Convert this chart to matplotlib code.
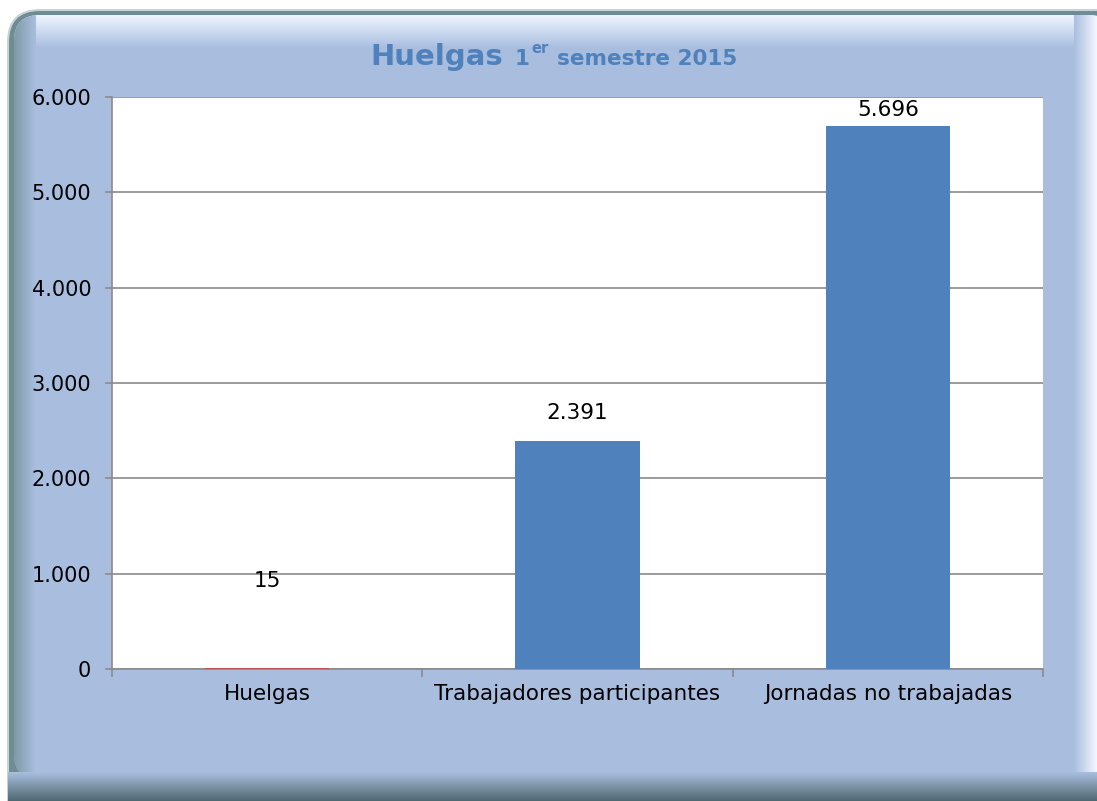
import matplotlib
matplotlib.use("Agg")
import matplotlib.pyplot as plt
import numpy as np
from matplotlib.patches import FancyBboxPatch
from matplotlib.ticker import FuncFormatter, FixedLocator

categories = ["Huelgas", "Trabajadores participantes", "Jornadas no trabajadas"]
values = [15, 2391, 5696]
yticks = [0, 1000, 2000, 3000, 4000, 5000, 6000]

bar_colors = ["#C0504D", "#4F81BD", "#4F81BD"]
label_offsets_px = [87, 28, 16]

W, H = 1097, 801
fig = plt.figure(figsize=(W / 100, H / 100), dpi=100)
fig.patch.set_facecolor("white")

# background frame
bg = fig.add_axes([0, 0, 1, 1])
bg.set_xlim(0, W)
bg.set_ylim(H, 0)
bg.axis("off")
outer = FancyBboxPatch((8, 10), 1150, 850, boxstyle="round,pad=0,rounding_size=32",
                       fc="#6f8b93", ec="#c9d3d6", lw=1.5)
bg.add_patch(outer)
inner = FancyBboxPatch((14, 15), 1100, 765, boxstyle="round,pad=0,rounding_size=26",
                       fc="#A9BEDF", ec="none")
bg.add_patch(inner)

def vgrad(c1, c2, n=64):
    c1 = np.array(matplotlib.colors.to_rgb(c1))
    c2 = np.array(matplotlib.colors.to_rgb(c2))
    t = np.linspace(0, 1, n)[:, None]
    return (c1 * (1 - t) + c2 * t)[:, None, :]

def hgrad(c1, c2, n=64):
    return np.transpose(vgrad(c1, c2, n), (1, 0, 2))

im = bg.imshow(vgrad("#eef5ff", "#A9BEDF"), extent=(14, W, 48, 15), aspect="auto", zorder=2)
im.set_clip_path(inner)
im2 = bg.imshow(hgrad("#7f9aa4", "#A9BEDF"), extent=(14, 36, 780, 15), aspect="auto", zorder=2)
im2.set_clip_path(inner)
im3 = bg.imshow(hgrad("#A9BEDF", "#f4f8ff"), extent=(1074, W, 780, 15), aspect="auto", zorder=2)
im3.set_clip_path(inner)
bg.imshow(vgrad("#A9BEDF", "#4f6970"), extent=(8, W, H, 772), aspect="auto", zorder=3)

# title
tc = "#4F81BD"
fig.text(370 / W, 1 - 65 / H, "Huelgas", fontsize=21, fontweight="bold",
         color=tc, ha="left", va="baseline")
fig.text(515 / W, 1 - 65 / H, "1", fontsize=15.5, fontweight="bold",
         color=tc, ha="left", va="baseline")
fig.text(531 / W, 1 - 53 / H, "er", fontsize=10.5, fontweight="bold",
         color=tc, ha="left", va="baseline")
fig.text(557 / W, 1 - 65 / H, "semestre 2015", fontsize=15.5, fontweight="bold",
         color=tc, ha="left", va="baseline")

# plot area
x0, x1, y0, y1 = 112, 1043, 97, 669
ax = fig.add_axes([x0 / W, 1 - y1 / H, (x1 - x0) / W, (y1 - y0) / H])
ax.set_facecolor("white")
x = np.arange(len(categories))
ax.bar(x, values, width=0.4, color=bar_colors, zorder=3)
ax.set_xlim(-0.5, len(categories) - 0.5)
ax.set_ylim(0, 6000)
ax.set_yticks(yticks)
ax.yaxis.set_major_formatter(FuncFormatter(lambda v, p: f"{int(v):,}".replace(",", ".")))
ax.grid(axis="y", color="#8a8a8a", lw=1.2, zorder=1)
ax.set_axisbelow(True)
for s in ["top", "right"]:
    ax.spines[s].set_visible(False)
for s in ["left", "bottom"]:
    ax.spines[s].set_color("#8a8a8a")
    ax.spines[s].set_linewidth(1.2)
ax.tick_params(axis="y", length=5, width=1.2, color="#8a8a8a", pad=10, labelsize=15)
ax.set_xticks(x)
ax.set_xticklabels(categories)
ax.tick_params(axis="x", which="major", length=0, pad=11, labelsize=15.5)
ax.xaxis.set_minor_locator(FixedLocator(np.arange(-0.5, len(categories), 1.0)))
ax.tick_params(axis="x", which="minor", length=6, width=1.2, color="#8a8a8a")

for xi, v, off in zip(x, values, label_offsets_px):
    ax.annotate(f"{v:,}".replace(",", "."), (xi, v), xytext=(0, off * 72 / 100),
                textcoords="offset points", ha="center", va="center", fontsize=15.5, zorder=5)

fig.savefig("out.png", dpi=100)
